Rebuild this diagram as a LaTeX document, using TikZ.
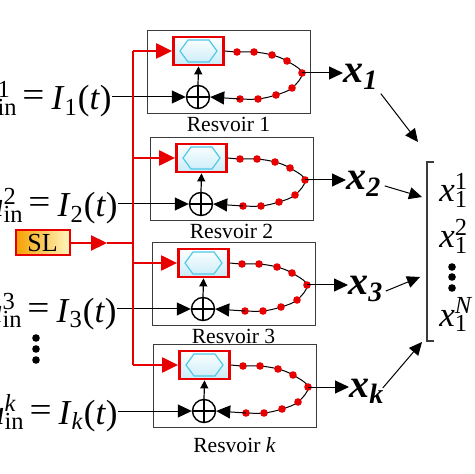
\documentclass[tikz,border=0pt]{standalone}
\usepackage{fontspec}
\setmainfont{Liberation Serif}
\usetikzlibrary{arrows.meta}
\definecolor{redc}{RGB}{232,0,0}
\definecolor{hexc}{RGB}{80,200,232}
\definecolor{boxg}{RGB}{60,60,60}
\definecolor{nlfill}{RGB}{200,236,248}
\definecolor{slL}{RGB}{245,160,0}
\definecolor{slR}{RGB}{255,246,190}
\newcommand\supsub[3]{#1\rlap{\textsuperscript{#2}}\textsubscript{#3}}
\newcommand\eqsign{\hspace{0.14em}\raisebox{1.5pt}{\scalebox{1.12}[1]{=}}\hspace{0.2em}}
\begin{document}
\begin{tikzpicture}[x=0.5pt,y=-0.5pt,
  resbox/.style={draw=boxg, line width=0.65pt, minimum width=81.5pt, minimum height=41.5pt, inner sep=0pt, anchor=north west},
  nlbox/.style={draw=redc, line width=1.4pt, top color=white, bottom color=nlfill, minimum width=25pt, minimum height=14pt, inner sep=0pt},
  sumnode/.style={circle, draw, line width=0.7pt, minimum size=11.5pt, inner sep=0pt},
  slbox/.style={draw=redc, line width=1pt, left color=slL, right color=slR, minimum width=27pt, minimum height=12.5pt, inner sep=0pt, font=\fontsize{13}{14}\selectfont},
  redline/.style={draw=redc, line width=1.1pt},
  redarr/.style={redline, -{Triangle[length=8pt,width=7.5pt]}},
  blkarr/.style={draw=black, line width=0.5pt, -{Triangle[length=7pt,width=6.5pt]}},
  thinarr/.style={draw=black, line width=0.5pt, -{Triangle[length=6.5pt,width=6pt]}},
  uparr/.style={draw=black, line width=0.6pt, -{Triangle[length=4pt,width=4pt]}},
  loopline/.style={draw=black, line width=0.5pt},
  lab/.style={font=\fontsize{10.8}{12}\selectfont, inner sep=0pt},
  eqn/.style={font=\fontsize{17.5}{19}\selectfont, inner sep=0pt},
  xout/.style={font=\fontsize{20}{22}\selectfont\bfseries\itshape, inner sep=0pt},
  vecent/.style={font=\fontsize{17.5}{18}\selectfont, inner sep=0pt, anchor=base west},
  ]
\useasboundingbox (0,0) rectangle (474,474);
\coordinate (tx) at (133,0);

\foreach \i/\dx/\dy/\k/\ex/\ly in {1/147/30/1/112/87, 2/150/137/2/118/87, 3/152/242/3/117/87, 4/153/344/{\textit{k}}/118/93} {
  \begin{scope}[shift={(\dx,\dy)}]
    \node[resbox] (box\i) at (0,0) {};
    \node[nlbox] (nl\i) at (51.5,21) {};
    \draw[hexc, line width=0.6pt] (33,21) -- (41,10) -- (62,10) -- (70,21) -- (62,32) -- (41,32) -- cycle;
    \node[sumnode] (sum\i) at (51,67) {};
    \draw[line width=0.6pt] (sum\i.north) -- (sum\i.south) (sum\i.west) -- (sum\i.east);
    \coordinate (d\i-1) at (90,22);
    \coordinate (d\i-2) at (107,22);
    \coordinate (d\i-3) at (125,25);
    \coordinate (d\i-4) at (140,31);
    \coordinate (d\i-5) at (155,43);
    \coordinate (d\i-6) at (145,58);
    \coordinate (d\i-7) at (129,65);
    \coordinate (d\i-8) at (111,69);
    \coordinate (d\i-9) at (93,69);
    \draw[loopline] plot[smooth, tension=0.6] coordinates {(nl\i.east) (d\i-1) (d\i-2) (d\i-3) (d\i-4) (d\i-5) (d\i-6) (d\i-7) (d\i-8) (d\i-9)};
    \foreach \j in {1,...,9} { \fill[redc] (d\i-\j) circle[radius=1.9pt]; }
    \draw[blkarr] (d\i-9) -- (sum\i.east);
    \draw[uparr] (sum\i.north) -- (nl\i.south);
    \node[xout, anchor=base west] (x\i) at (196,53) {x\textsubscript{\k}};
    \draw[blkarr] (d\i-5) -- (x\i.west |- d\i-5);
    \node[lab, anchor=north] (lb\i) at (81.5,\ly) {Resvoir \k};
    \node[eqn, anchor=base east] (in\i) at ({\ex-\dx},80) {\supsub{\textit{u}}{\k}{in}\eqsign\textit{I}\textsubscript{\k}(\textit{t})};
    \draw[blkarr] (in\i.east |- sum\i) -- (sum\i.west);
  \end{scope}
}
\draw[redline] (tx |- nl1) -- (tx |- nl4);
\foreach \i in {1,...,4} { \draw[redarr] (tx |- nl\i) -- (nl\i.west); }

\node[slbox] (sl) at (42.5,243) {SL};
\coordinate (slm) at (107,243);
\draw[redarr] (sl.east) -- (slm);
\draw[redline] (slm) -- (tx |- sl);

\foreach \yy in {338,349,360} { \fill (36,\yy) circle[radius=1.9pt]; }

% output vector
\draw[boxg, line width=0.6pt] (434,162) -- (427,162) -- (427,341) -- (434,341);
\node[vecent] (v1) at (439,202) {\supsub{\textit{x}}{1}{1}};
\node[vecent] (v2) at (439,248) {\supsub{\textit{x}}{2}{1}};
\node[vecent] (v3) at (439,326) {\supsub{\textit{x}}{\textit{N}}{1}};
\foreach \yy in {267,277,288} { \fill (452,\yy) circle[radius=1.9pt]; }

\coordinate (e1) at (418,142);
\coordinate (e2) at (422,197);
\coordinate (e3) at (420,277);
\coordinate (e4) at (422,342);
\draw[thinarr] (x1.south east) ++(2,4) -- (e1);
\draw[thinarr] (x2.east) ++(3,2) -- (e2);
\draw[thinarr] (x3.east) ++(2,2) -- (e3);
\draw[thinarr] (x4.east) ++(-2,-3) -- (e4);
\end{tikzpicture}
\end{document}
